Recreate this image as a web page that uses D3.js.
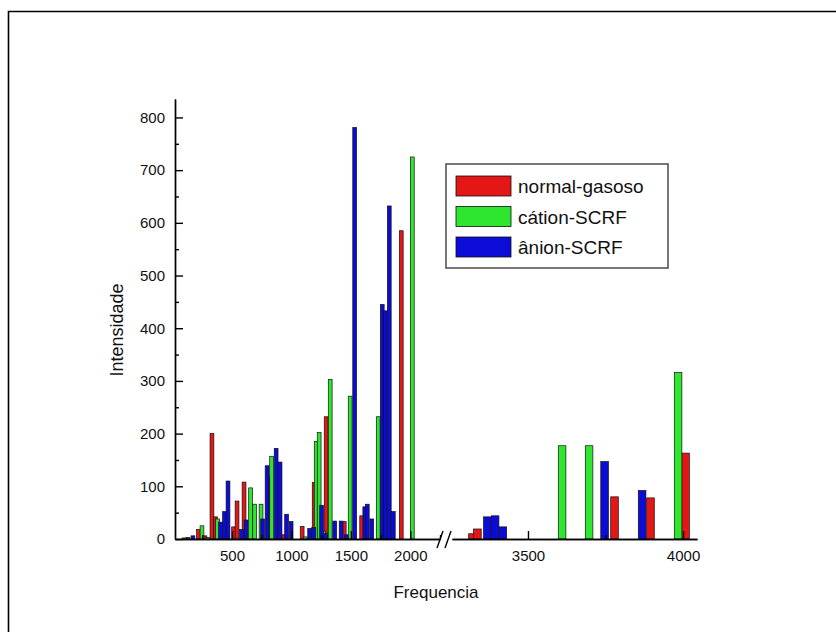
<!DOCTYPE html>
<html>
<head>
<meta charset="utf-8">
<script src="https://cdn.jsdelivr.net/npm/d3@7"></script>
<style>
  body { margin: 0; background: #fff; }
  svg { font-family: "Liberation Sans", Arial, sans-serif; }
  .axis path, .axis line { stroke: #000; stroke-width: 1.4; }
  .axis text { font-size: 15px; fill: #111; }
</style>
</head>
<body>
<div id="chart"></div>
<script>
var width = 836, height = 632;

// series: frequencies and intensities
var seriesNames = ['normal-gasoso', 'cátion-SCRF', 'ânion-SCRF'];
var seriesColors = ['#e41616', '#2ee62e', '#0c0cd8'];

var normalFreq = [129, 218, 272, 331, 361, 513, 542, 601, 816, 930, 1090, 1191, 1292, 1444, 1591, 1924, 3321, 3337, 3779, 3895, 4008];
var normalInt  = [3, 18, 6, 200, 42, 23, 72, 108, 119, 8, 24, 107, 232, 33, 44, 585, 10, 19, 80, 78, 163];

var cationFreq = [96, 247, 295, 378, 656, 690, 744, 833, 1115, 1208, 1233, 1271, 1326, 1494, 1730, 1781, 2017, 3610, 3697, 3984];
var cationInt  = [2, 25, 3, 38, 97, 66, 66, 157, 4, 185, 202, 15, 303, 271, 232, 216, 725, 177, 177, 316];

var anionFreq = [171, 403, 437, 466, 580, 618, 757, 795, 871, 904, 959, 997, 1153, 1187, 1254, 1288, 1364, 1418, 1461, 1532, 1617, 1638, 1676, 1764, 1789, 1823, 1857, 3369, 3394, 3419, 3747, 3868];
var anionInt  = [6, 32, 52, 110, 18, 36, 38, 139, 172, 146, 47, 33, 20, 22, 64, 10, 34, 34, 8, 781, 61, 66, 38, 445, 433, 632, 52, 42, 44, 23, 147, 92];

var yTicks = [0, 100, 200, 300, 400, 500, 600, 700, 800];
var yMinor = [50, 150, 250, 350, 450, 550, 650, 750];
var xTicksLeft = [500, 1000, 1500, 2000];
var xMinorLeft = [250, 750, 1250, 1750, 2250];
var xTicksRight = [3500, 4000];
var xMinorRight = [3750];

var svg = d3.select('#chart').append('svg')
  .attr('width', width)
  .attr('height', height);

// outer frame (only left and top edges show in the picture)
svg.append('path')
  .attr('d', 'M8.5,640V11.5H840')
  .attr('fill', 'none')
  .attr('stroke', '#000')
  .attr('stroke-width', 1.6);

// broken x axis: two linear pieces
var xL = d3.scaleLinear().domain([20, 2250]).range([175, 440]);
var xR = d3.scaleLinear().domain([3255, 4045]).range([452, 697]);
var y = d3.scaleLinear().domain([0, 835]).range([539, 99]);

function xPos(f) { return f < 2700 ? xL(f) : xR(f); }
function barW(f) { return f < 2700 ? 3.8 : 7.6; }

var series = [
  {name: seriesNames[0], color: seriesColors[0], freq: normalFreq, val: normalInt},
  {name: seriesNames[1], color: seriesColors[1], freq: cationFreq, val: cationInt},
  {name: seriesNames[2], color: seriesColors[2], freq: anionFreq, val: anionInt}
];

series.forEach(function(s) {
  var rows = s.freq.map(function(f, i) { return {f: f, v: s.val[i]}; });
  svg.append('g')
    .selectAll('rect')
    .data(rows)
    .enter()
    .append('rect')
    .attr('x', function(d) { return xPos(d.f) - barW(d.f) / 2; })
    .attr('width', function(d) { return barW(d.f); })
    .attr('y', function(d) { return y(d.v); })
    .attr('height', function(d) { return y(0) - y(d.v); })
    .attr('fill', s.color)
    .attr('stroke', '#111')
    .attr('stroke-width', 0.7);
});

var fmt = d3.format('d');

// y axis
svg.append('g')
  .attr('class', 'axis')
  .attr('transform', 'translate(175,0)')
  .call(d3.axisLeft(y).tickValues(yTicks).tickFormat(fmt).tickSizeInner(-8).tickSizeOuter(0).tickPadding(10));
svg.append('g')
  .attr('class', 'axis')
  .attr('transform', 'translate(175,0)')
  .call(d3.axisLeft(y).tickValues(yMinor).tickSizeInner(-4).tickSizeOuter(0).tickFormat(''));

// x axis, left piece
svg.append('g')
  .attr('class', 'axis')
  .attr('transform', 'translate(0,539)')
  .call(d3.axisBottom(xL).tickValues(xTicksLeft).tickFormat(fmt).tickSizeInner(-8).tickSizeOuter(0).tickPadding(11));
svg.append('g')
  .attr('class', 'axis')
  .attr('transform', 'translate(0,539)')
  .call(d3.axisBottom(xL).tickValues(xMinorLeft).tickSizeInner(-4).tickSizeOuter(0).tickFormat(''));

// x axis, right piece
svg.append('g')
  .attr('class', 'axis')
  .attr('transform', 'translate(0,539)')
  .call(d3.axisBottom(xR).tickValues(xTicksRight).tickFormat(fmt).tickSizeInner(-8).tickSizeOuter(0).tickPadding(11));
svg.append('g')
  .attr('class', 'axis')
  .attr('transform', 'translate(0,539)')
  .call(d3.axisBottom(xR).tickValues(xMinorRight).tickSizeInner(-4).tickSizeOuter(0).tickFormat(''));

// break marks
var bx = [xL.range()[1], xR.range()[0] - 4];
svg.append('g').selectAll('line')
  .data(bx)
  .enter()
  .append('line')
  .attr('x1', function(d) { return d - 3; })
  .attr('y1', 548)
  .attr('x2', function(d) { return d + 3; })
  .attr('y2', 531)
  .attr('stroke', '#000')
  .attr('stroke-width', 1.4);

// axis titles
svg.append('text')
  .attr('x', 436)
  .attr('y', 598)
  .attr('text-anchor', 'middle')
  .style('font-size', '17px')
  .attr('fill', '#111')
  .text('Frequencia');

svg.append('text')
  .attr('transform', 'translate(123,330) rotate(-90)')
  .attr('text-anchor', 'middle')
  .style('font-size', '18px')
  .attr('fill', '#111')
  .text('Intensidade');

// legend
var legend = svg.append('g').attr('transform', 'translate(446,164)');
legend.append('rect')
  .attr('width', 222)
  .attr('height', 104)
  .attr('fill', '#fff')
  .attr('stroke', '#555')
  .attr('stroke-width', 1.6);

var items = legend.selectAll('g.item')
  .data(series)
  .enter()
  .append('g')
  .attr('class', 'item')
  .attr('transform', function(d, i) { return 'translate(10,' + (12 + i * 30.5) + ')'; });

items.append('rect')
  .attr('width', 55)
  .attr('height', 20)
  .attr('fill', function(d) { return d.color; })
  .attr('stroke', '#111')
  .attr('stroke-width', 0.8);

items.append('text')
  .attr('x', 62)
  .attr('y', 17)
  .style('font-size', '19px')
  .attr('fill', '#111')
  .text(function(d) { return d.name; });
</script>
</body>
</html>
